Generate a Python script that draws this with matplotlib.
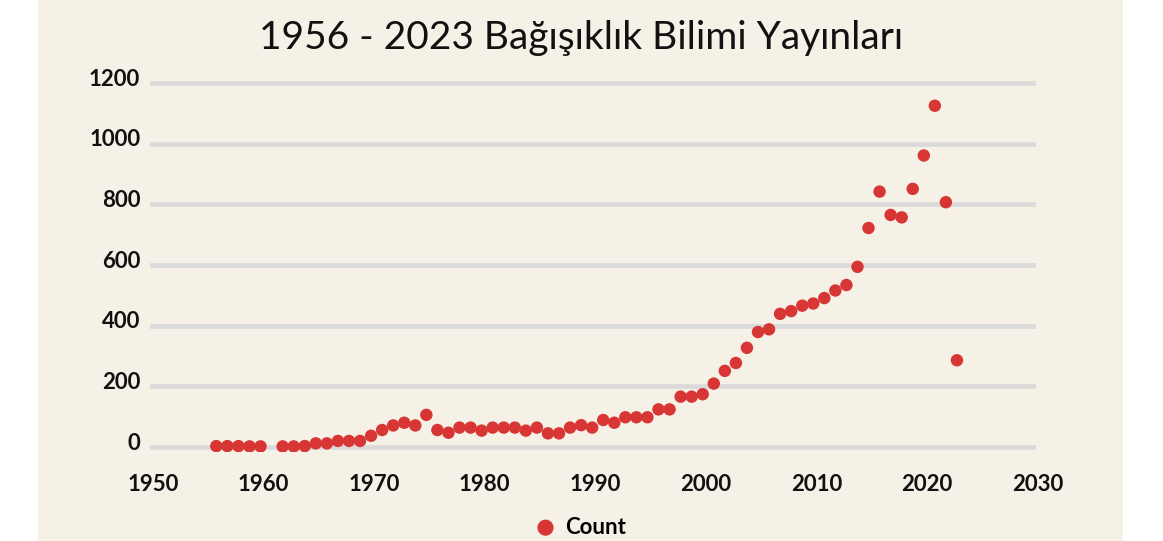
import matplotlib
matplotlib.use('Agg')
import matplotlib.pyplot as plt
import matplotlib.transforms as mtransforms
from matplotlib.patches import Rectangle

# Yıllara göre yayın sayıları (1961 yok)
yillar = [1956, 1957, 1958, 1959, 1960,
          1962, 1963, 1964, 1965, 1966, 1967, 1968, 1969, 1970, 1971,
          1972, 1973, 1974, 1975, 1976, 1977, 1978, 1979, 1980, 1981,
          1982, 1983, 1984, 1985, 1986, 1987, 1988, 1989, 1990, 1991,
          1992, 1993, 1994, 1995, 1996, 1997, 1998, 1999, 2000, 2001,
          2002, 2003, 2004, 2005, 2006, 2007, 2008, 2009, 2010, 2011,
          2012, 2013, 2014, 2015, 2016, 2017, 2018, 2019, 2020, 2021,
          2022, 2023]
sayilar = [3, 3, 3, 2, 2,
           2, 2, 3, 12, 12, 20, 20, 20, 37, 56,
           71, 80, 71, 106, 56, 47, 64, 64, 54, 64,
           64, 64, 54, 64, 45, 45, 64, 72, 64, 89,
           80, 98, 98, 98, 124, 124, 166, 166, 174, 209,
           251, 277, 327, 379, 388, 439, 448, 466, 473, 491,
           516, 534, 594, 722, 842, 765, 757, 851, 961, 1125,
           807, 286]

x_ticks = [1950, 1960, 1970, 1980, 1990, 2000, 2010, 2020, 2030]
y_ticks = [0, 200, 400, 600, 800, 1000, 1200]

baslik = '1956 - 2023 Bağışıklık Bilimi Yayınları'
seri_adi = 'Count'

bej = '#f5f1e6'
kirmizi = '#d83535'
gri = '#dadada'

W, H = 1163, 541
fig = plt.figure(figsize=(W / 100, H / 100), dpi=100)
fig.patch.set_facecolor('white')
fig.patches.append(Rectangle((38 / W, 0), (1123 - 38) / W, 1, transform=fig.transFigure,
                             facecolor=bej, edgecolor='none', zorder=-5))

# eksen konumu: y=0 -> 447px, y=1200 -> 83px (yukarıdan)
pad = 15
ppu = (447 - 83) / 1200
bottom_px = H - 447 - pad * ppu
top_px = H - 83 + pad * ppu
ax = fig.add_axes([150 / W, bottom_px / H, (1036 - 150) / W, (top_px - bottom_px) / H])
ax.set_facecolor('none')
ax.set_zorder(2)

ax.scatter(yillar, sayilar, s=80, color=kirmizi, edgecolor='none', zorder=3, label=seri_adi)

ax.set_xlim(1950.2, 2030.15)
ax.set_ylim(-pad, 1200 + pad)
ax.set_xticks(x_ticks)
ax.set_yticks(y_ticks)
ax.grid(axis='y', color=gri, linewidth=3.3)
ax.set_axisbelow(True)
for s in ax.spines.values():
    s.set_visible(False)

ax.tick_params(axis='both', length=0, labelsize=16)
ax.tick_params(axis='x', pad=16)
ax.tick_params(axis='y', pad=7)
for lab in ax.get_xticklabels() + ax.get_yticklabels():
    lab.set_fontfamily('Lato')
    lab.set_fontweight('bold')
    lab.set_color('#111111')

# x etiketleri referansta biraz sağda
xofs = mtransforms.ScaledTranslation(3 / 100, 0, fig.dpi_scale_trans)
for lab in ax.get_xticklabels():
    lab.set_transform(lab.get_transform() + xofs)

# y etiketleri çizgilerin biraz üstünde
ofs = mtransforms.ScaledTranslation(0, 6 / 100, fig.dpi_scale_trans)
for lab in ax.get_yticklabels():
    lab.set_transform(lab.get_transform() + ofs)

fig.text(0.5, 1 - 38 / H, baslik, ha='center', va='center', fontsize=28,
         family='Lato', color='#111111', zorder=3)

leg = fig.legend(loc='center', bbox_to_anchor=(0.5, 1 - 527 / H), frameon=False,
                 prop={'family': 'Lato', 'weight': 'bold', 'size': 16},
                 handlelength=0.8, handletextpad=0.5, markerscale=1.3)
leg.set_zorder(3)

plt.savefig('out.png', dpi=100, facecolor=fig.get_facecolor())
